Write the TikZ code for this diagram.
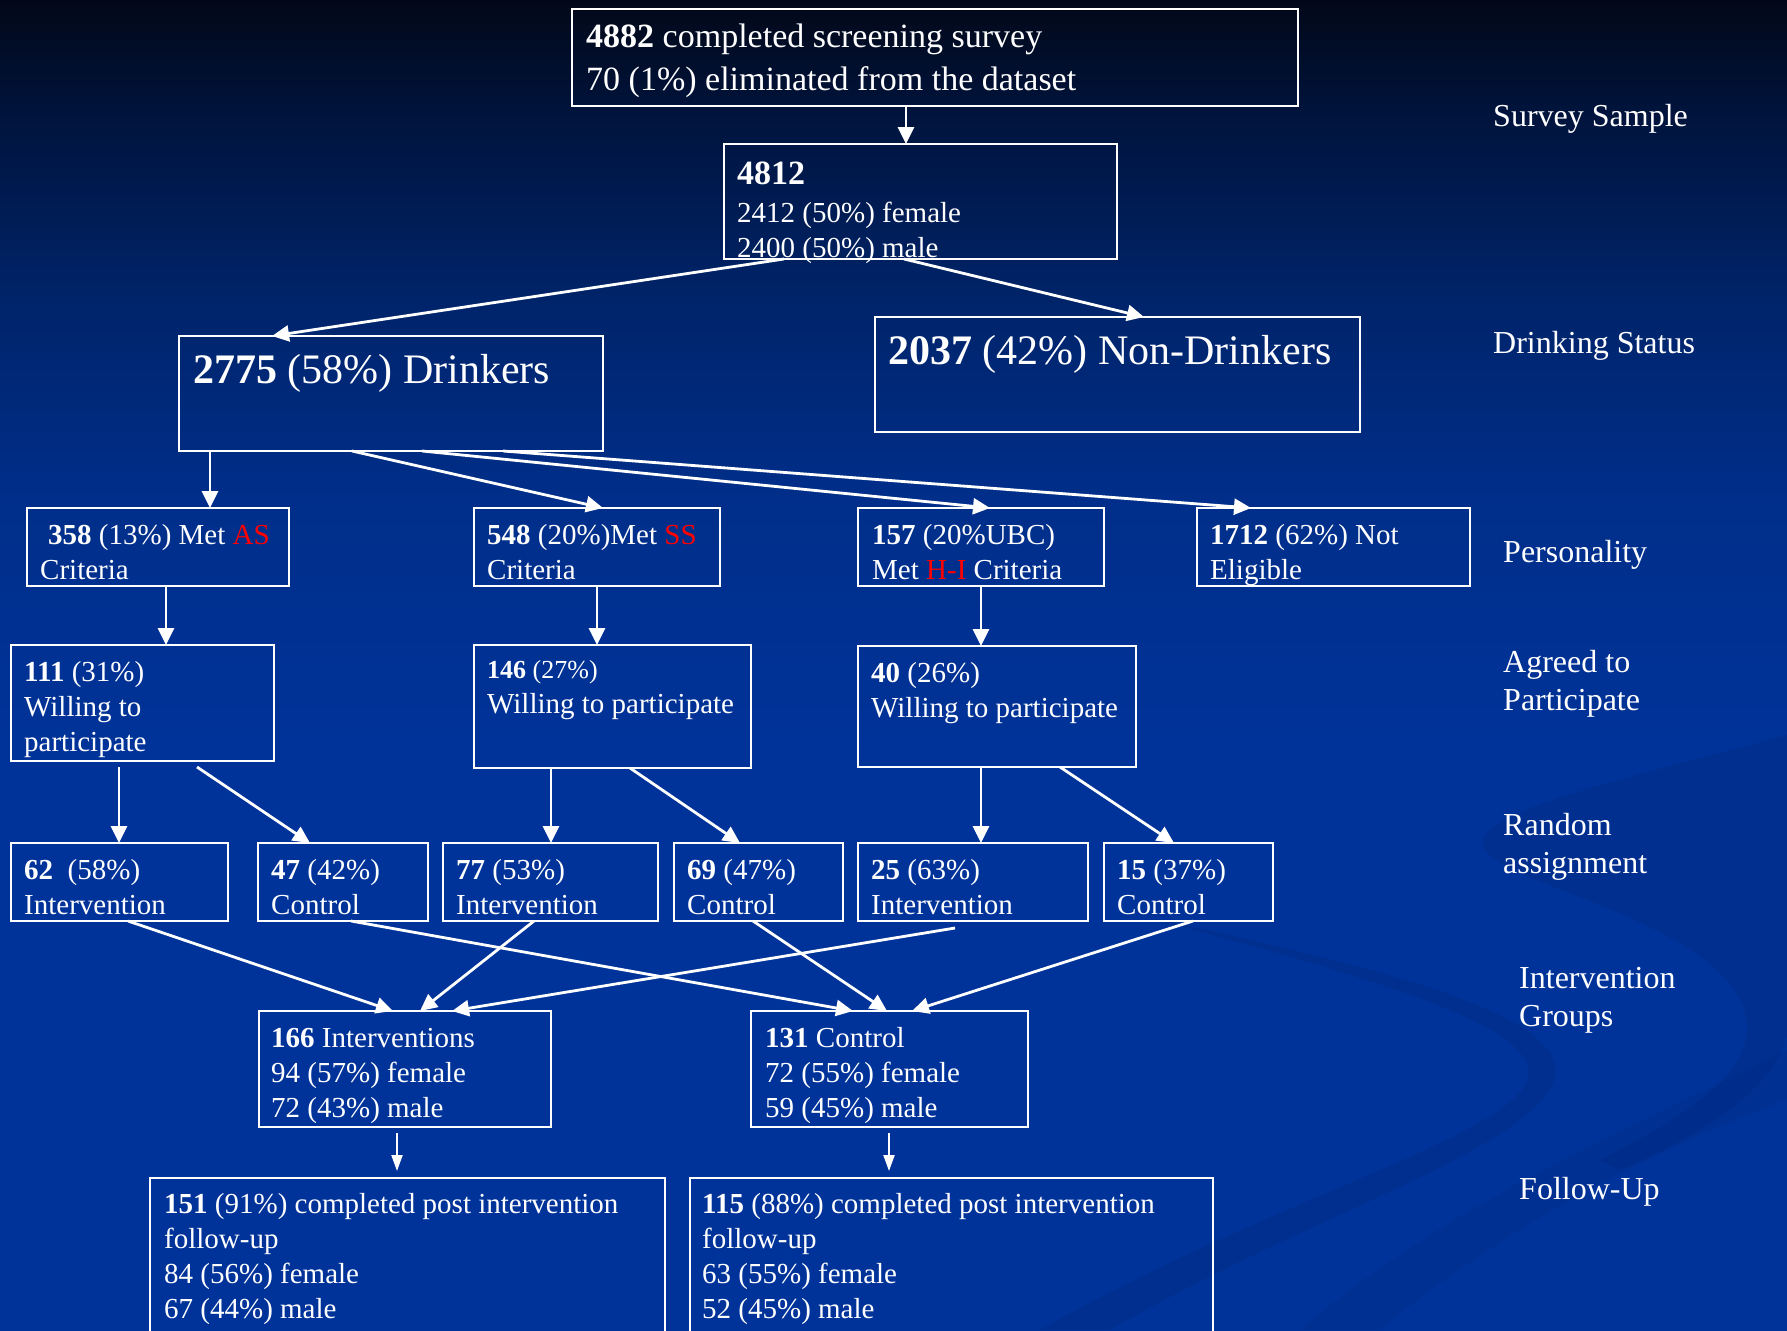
\documentclass[tikz,border=0pt]{standalone}
\usepackage{fontspec}
\setmainfont{Liberation Serif}
\usetikzlibrary{arrows.meta,calc}
\definecolor{bgA}{RGB}{2,8,24}
\definecolor{bgA1}{RGB}{0,20,62}
\definecolor{bgB1}{RGB}{0,36,106}
\definecolor{bgB2}{RGB}{0,46,138}
\definecolor{bgC}{RGB}{0,51,153}
\definecolor{swoosh}{RGB}{0,40,125}
\pgfdeclareverticalshading{bgshade}{100bp}{color(0bp)=(bgC); color(46.8bp)=(bgC); color(56.2bp)=(bgB2); color(63.7bp)=(bgB1); color(70.5bp)=(bgA1); color(75bp)=(bgA); color(100bp)=(bgA)}
\newcommand\fsz[2]{\fontsize{#1}{#2}\selectfont}
\newcommand\rows[1]{\begin{tabular}[t]{@{}l@{}}#1\end{tabular}}
\begin{document}
\begin{tikzpicture}[x=1pt,y=-1pt,
  box/.style={draw=white, line width=2.5pt, anchor=north west, inner sep=0pt, outer sep=0pt},
  txt/.style={anchor=base west, inner sep=0pt, text=white, font=\fsz{29}{35}},
  bigtxt/.style={txt, font=\fsz{42}{50}},
  lbl/.style={anchor=base west, inner sep=0pt, text=white, font=\fsz{32}{38.5}},
  arr/.style={draw=white, line width=2.8pt, -{Triangle[width=16pt,length=17pt]}},
  thinarr/.style={draw=white, line width=2pt, -{Triangle[width=11pt,length=16pt]}}]
\path[use as bounding box] (0,0) rectangle (1787,1330);
\clip (0,0) rectangle (1787,1330);
\shade[shading=bgshade] (0,0) rectangle (1787,1330);
% faint background ribbons
\fill[swoosh, opacity=0.35] (1150,918) .. controls (1400,985) and (1565,1035) .. (1522,1090)
   .. controls (1480,1145) and (1250,1210) .. (1040,1330) -- (1110,1330)
   .. controls (1300,1220) and (1500,1160) .. (1548,1092)
   .. controls (1595,1025) and (1420,975) .. (1150,918) -- cycle;
\fill[swoosh, opacity=0.3] (1787,735) .. controls (1620,780) and (1460,815) .. (1485,850)
   .. controls (1510,885) and (1700,920) .. (1740,1000)
   .. controls (1770,1060) and (1700,1110) .. (1600,1160) -- (1620,1170)
   .. controls (1760,1110) and (1800,1050) .. (1787,1000) -- cycle;
\fill[swoosh, opacity=0.25] (1787,1050) .. controls (1650,1120) and (1450,1200) .. (1300,1330) -- (1380,1330)
   .. controls (1500,1230) and (1650,1150) .. (1787,1100) -- cycle;

% boxes
\node[box, minimum width=726pt, minimum height=97pt]  (top)   at (572,9)    {};
\node[box, minimum width=393pt, minimum height=115pt] (n4812) at (724,144)  {};
\node[box, minimum width=424pt, minimum height=115pt] (drink) at (179,336)  {};
\node[box, minimum width=485pt, minimum height=115pt] (nond)  at (875,317)  {};
\node[box, minimum width=262pt, minimum height=78pt]  (as)    at (27,508)   {};
\node[box, minimum width=246pt, minimum height=78pt]  (ss)    at (474,508)  {};
\node[box, minimum width=246pt, minimum height=78pt]  (hi)    at (858,508)  {};
\node[box, minimum width=273pt, minimum height=78pt]  (ne)    at (1197,508) {};
\node[box, minimum width=263pt, minimum height=116pt] (w1)    at (11,645)   {};
\node[box, minimum width=277pt, minimum height=123pt] (w2)    at (474,645)  {};
\node[box, minimum width=278pt, minimum height=121pt] (w3)    at (858,646)  {};
\node[box, minimum width=217pt, minimum height=78pt]  (r1)    at (11,843)   {};
\node[box, minimum width=170pt, minimum height=78pt]  (r2)    at (258,843)  {};
\node[box, minimum width=215pt, minimum height=78pt]  (r3)    at (443,843)  {};
\node[box, minimum width=169pt, minimum height=78pt]  (r4)    at (674,843)  {};
\node[box, minimum width=230pt, minimum height=78pt]  (r5)    at (858,843)  {};
\node[box, minimum width=169pt, minimum height=78pt]  (r6)    at (1104,843) {};
\node[box, minimum width=292pt, minimum height=116pt] (gi)    at (259,1011) {};
\node[box, minimum width=277pt, minimum height=116pt] (gc)    at (751,1011) {};
\node[box, minimum width=515pt, minimum height=175pt] (fi)    at (150,1178) {};
\node[box, minimum width=523pt, minimum height=175pt] (fc)    at (690,1178) {};

% box texts
\node[txt, font=\fsz{34}{43}] (ttop) at ($(top.north west)+(14,39)$)
  {\rows{\textbf{4882} completed screening survey\\ 70 (1\%) eliminated from the dataset}};
\node[txt] (t4812) at ($(n4812.north west)+(13,40)$)
  {\rows{{\fsz{34}{40}\textbf{4812}}\\[3pt] 2412 (50\%) female\\ 2400 (50\%) male}};
\node[bigtxt] (tdrink) at ($(drink.north west)+(14,47)$) {\textbf{2775} (58\%) Drinkers};
\node[bigtxt] (tnond) at ($(nond.north west)+(13,47)$) {\textbf{2037} (42\%) Non-Drinkers};
\node[txt] (tas) at ($(as.north west)+(13,36)$)
  {\rows{\hspace{8pt}\textbf{358} (13\%) Met \textcolor{red}{AS}\\ Criteria}};
\node[txt] (tss) at ($(ss.north west)+(13,36)$)
  {\rows{\textbf{548} (20\%)Met \textcolor{red}{SS}\\ Criteria}};
\node[txt] (thi) at ($(hi.north west)+(14,36)$)
  {\rows{\textbf{157} (20\%UBC)\\ Met \textcolor{red}{H-I} Criteria}};
\node[txt] (tne) at ($(ne.north west)+(13,36)$)
  {\rows{\textbf{1712} (62\%) Not\\ Eligible}};
\node[txt] (tw1) at ($(w1.north west)+(13,36)$)
  {\rows{\textbf{111} (31\%)\\ Willing to\\ participate}};
\node[txt] (tw2) at ($(w2.north west)+(13,33)$)
  {\rows{{\fsz{26}{35}\textbf{146} (27\%)}\\ Willing to participate}};
\node[txt] (tw3) at ($(w3.north west)+(13,36)$)
  {\rows{\textbf{40} (26\%)\\ Willing to participate}};
\node[txt] (tr1) at ($(r1.north west)+(13,36)$) {\rows{\textbf{62}\ \ (58\%)\\ Intervention}};
\node[txt] (tr2) at ($(r2.north west)+(13,36)$) {\rows{\textbf{47} (42\%)\\ Control}};
\node[txt] (tr3) at ($(r3.north west)+(13,36)$) {\rows{\textbf{77} (53\%)\\ Intervention}};
\node[txt] (tr4) at ($(r4.north west)+(13,36)$) {\rows{\textbf{69} (47\%)\\ Control}};
\node[txt] (tr5) at ($(r5.north west)+(13,36)$) {\rows{\textbf{25} (63\%)\\ Intervention}};
\node[txt] (tr6) at ($(r6.north west)+(13,36)$) {\rows{\textbf{15} (37\%)\\ Control}};
\node[txt] (tgi) at ($(gi.north west)+(12,36)$)
  {\rows{\textbf{166} Interventions\\ 94 (57\%) female\\ 72 (43\%) male}};
\node[txt] (tgc) at ($(gc.north west)+(14,36)$)
  {\rows{\textbf{131} Control\\ 72 (55\%) female\\ 59 (45\%) male}};
\node[txt] (tfi) at ($(fi.north west)+(14,35)$)
  {\rows{\textbf{151} (91\%) completed post intervention\\ follow-up\\ 84 (56\%) female\\ 67 (44\%) male}};
\node[txt] (tfc) at ($(fc.north west)+(12,35)$)
  {\rows{\textbf{115} (88\%) completed post intervention\\ follow-up\\ 63 (55\%) female\\ 52 (45\%) male}};

% stage labels
\node[lbl] (lsurvey) at (1493,126) {Survey Sample};
\node[lbl] (ldrink) at (1493,353) {Drinking Status};
\node[lbl] (lpers) at (1503,562) {Personality};
\node[lbl] (lagree) at (1503,672) {\rows{Agreed to\\ Participate}};
\node[lbl] (lrand) at (1503,835) {\rows{Random\\ assignment}};
\node[lbl] (lgroups) at (1519,988) {\rows{Intervention\\ Groups}};
\node[lbl] (lfollow) at (1519,1199) {Follow-Up};

% connectors
\draw[arr] ($(top.north west)+(334,97)$) -- ($(n4812.north west)+(182,0)$);
\draw[arr] ($(n4812.north west)+(60,115)$) -- ($(drink.north west)+(93,0)$);
\draw[arr] ($(n4812.north west)+(180,115)$) -- ($(nond.north west)+(269,0)$);
\draw[arr] ($(drink.north west)+(31,115)$) -- ($(as.north west)+(183,0)$);
\draw[arr] ($(drink.north west)+(173,115)$) -- ($(ss.north west)+(129,0)$);
\draw[arr] ($(drink.north west)+(243,115)$) -- ($(hi.north west)+(132,0)$);
\draw[arr] ($(drink.north west)+(324,115)$) -- ($(ne.north west)+(54,0)$);
\draw[arr] ($(as.north west)+(139,78)$) -- ($(w1.north west)+(155,0)$);
\draw[arr] ($(ss.north west)+(123,78)$) -- ($(w2.north west)+(123,0)$);
\draw[arr] ($(hi.north west)+(123,78)$) -- ($(w3.north west)+(123,0)$);
\draw[arr] ($(w1.north west)+(108,122)$) -- ($(r1.north west)+(108,0)$);
\draw[arr] ($(w1.north west)+(186,122)$) -- ($(r2.north west)+(52,0)$);
\draw[arr] ($(w2.north west)+(77,123)$) -- ($(r3.north west)+(108,0)$);
\draw[arr] ($(w2.north west)+(156,123)$) -- ($(r4.north west)+(66,0)$);
\draw[arr] ($(w3.north west)+(123,121)$) -- ($(r5.north west)+(123,0)$);
\draw[arr] ($(w3.north west)+(202,121)$) -- ($(r6.north west)+(70,0)$);
\draw[arr] ($(r1.north west)+(117,78)$) -- ($(gi.north west)+(134,0)$);
\draw[arr] ($(r2.north west)+(93,78)$) -- ($(gc.north west)+(102,0)$);
\draw[arr] ($(r3.north west)+(91,78)$) -- ($(gi.north west)+(161,0)$);
\draw[arr] ($(r4.north west)+(79,78)$) -- ($(gc.north west)+(136,0)$);
\draw[arr] ($(r5.north west)+(97,85)$) -- ($(gi.north west)+(193,0)$);
\draw[arr] ($(r6.north west)+(89,78)$) -- ($(gc.north west)+(161,0)$);
\draw[thinarr] ($(gi.north west)+(138,122)$) -- ($(fi.north west)+(247,-7)$);
\draw[thinarr] ($(gc.north west)+(138,122)$) -- ($(fc.north west)+(199,-7)$);
\end{tikzpicture}
\end{document}
